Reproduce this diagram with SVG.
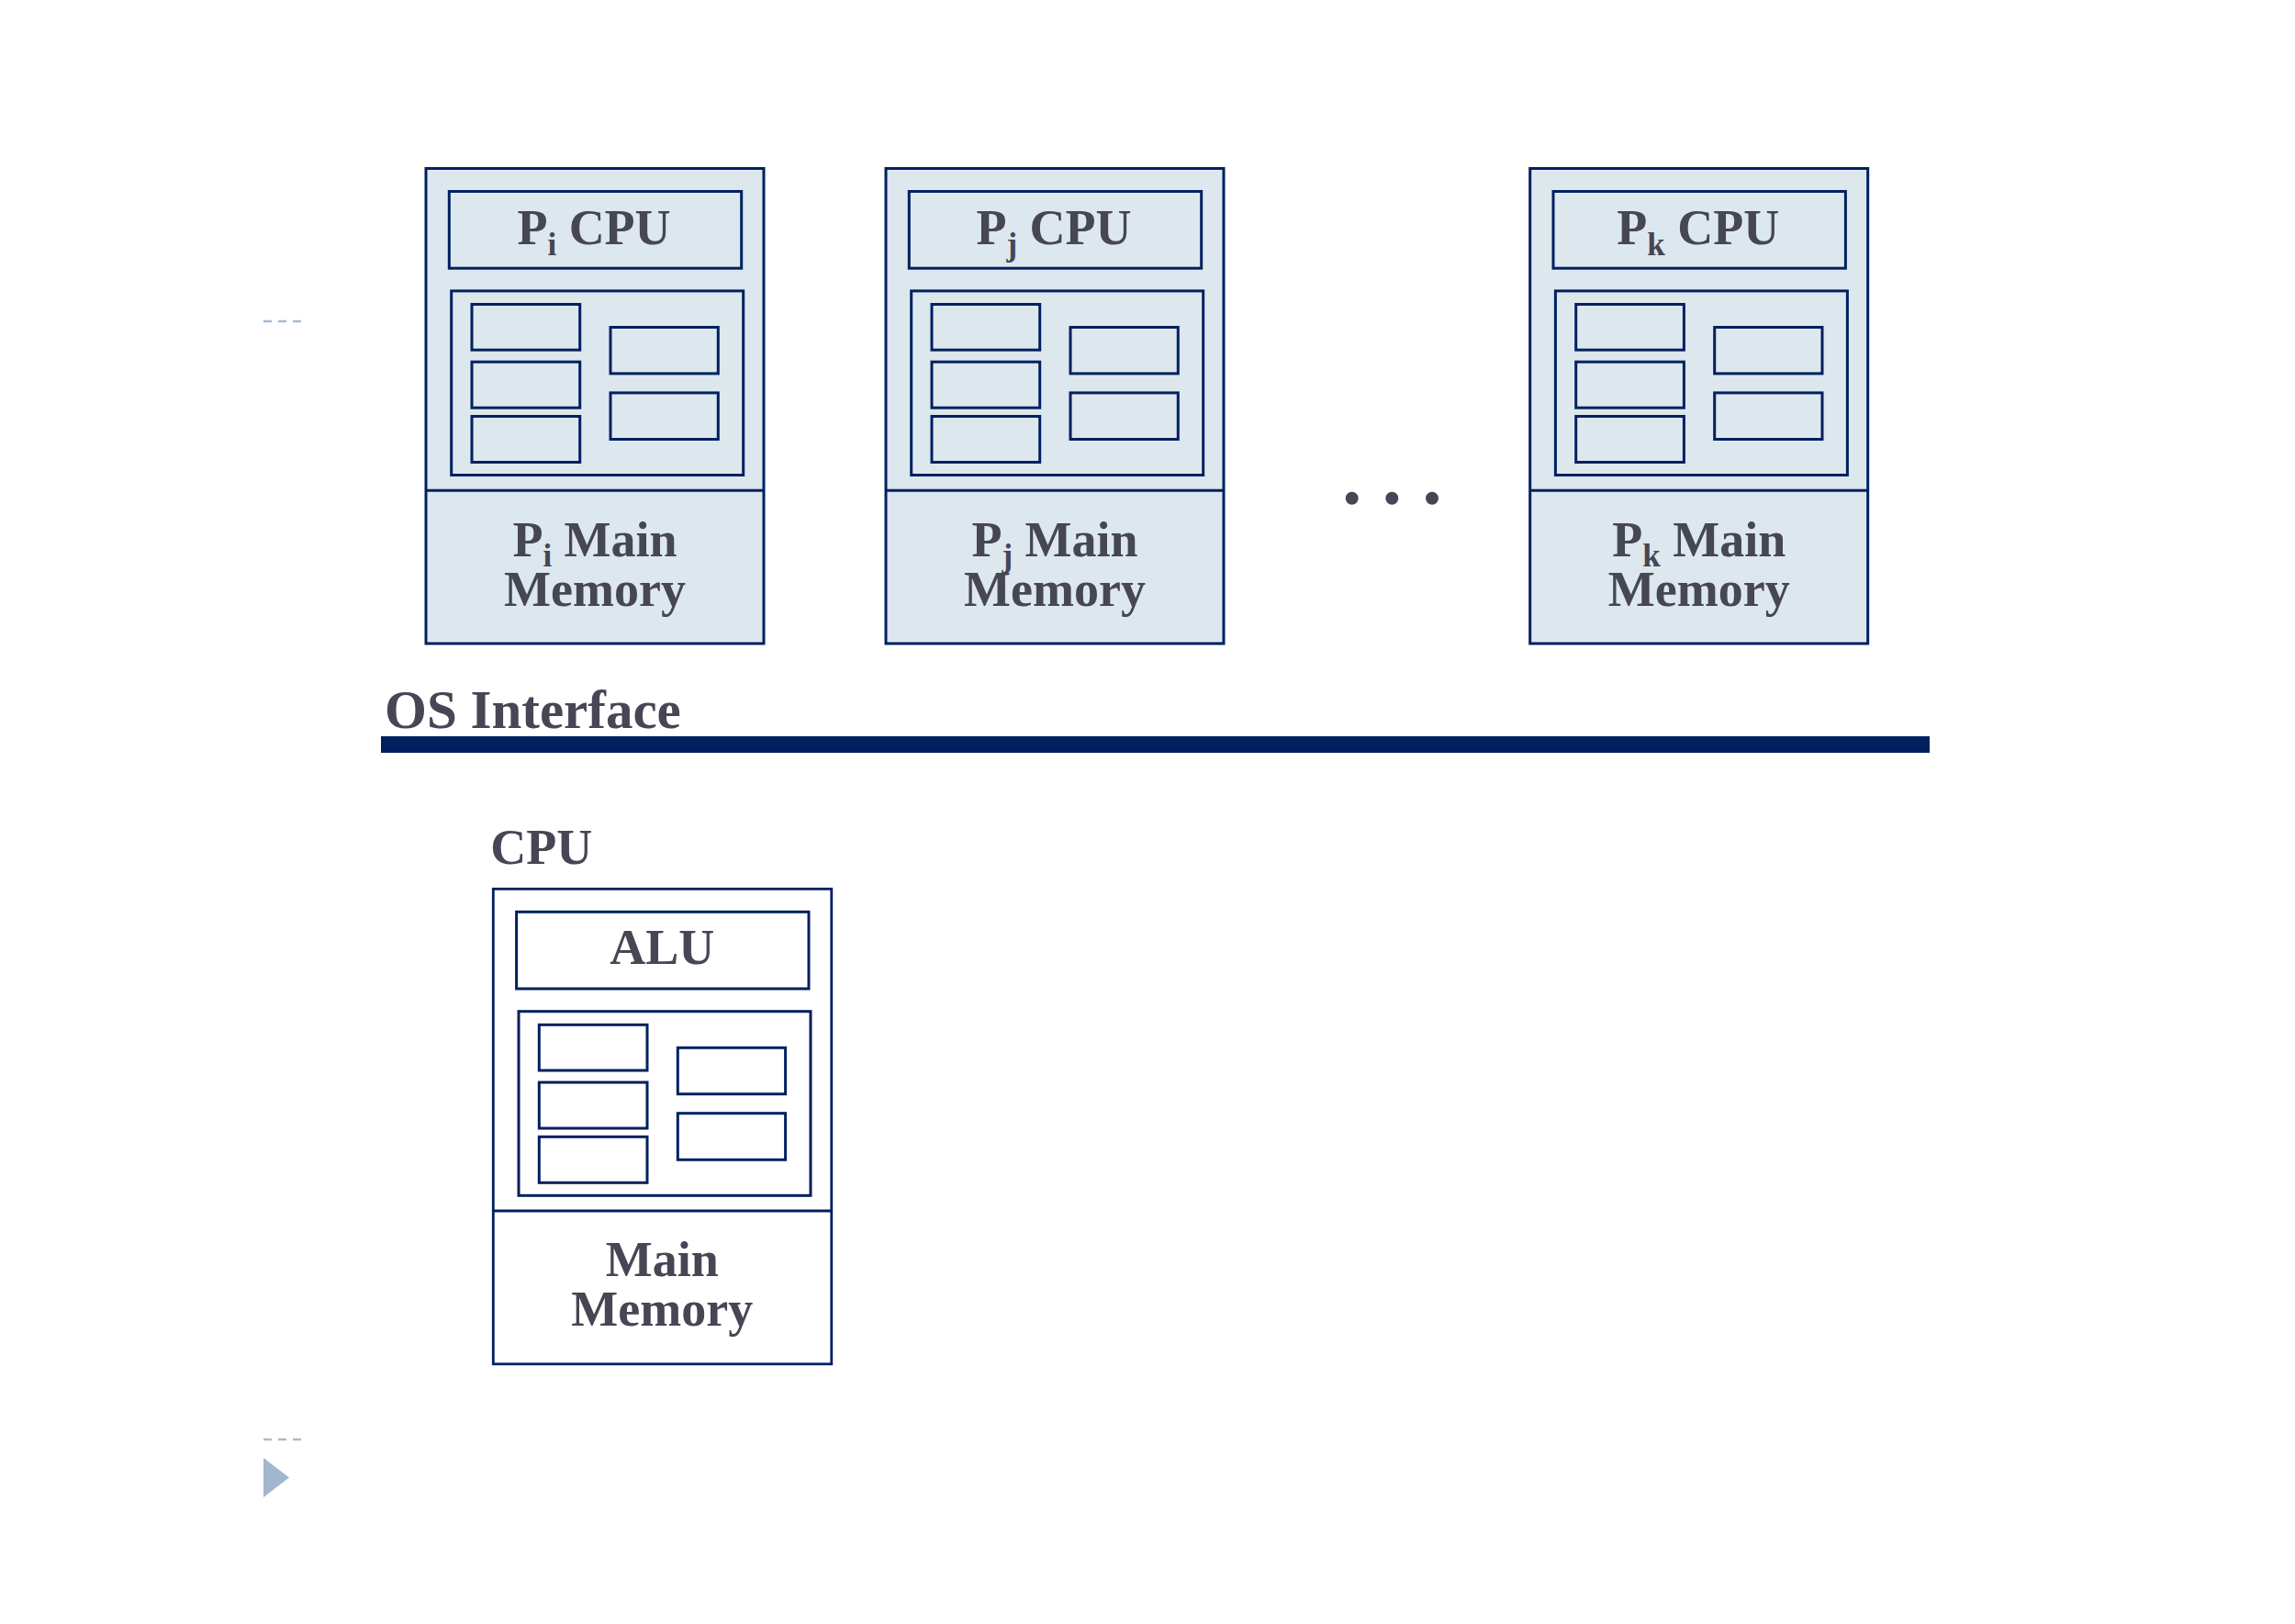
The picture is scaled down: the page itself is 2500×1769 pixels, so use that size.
<svg xmlns="http://www.w3.org/2000/svg" xmlns:xlink="http://www.w3.org/1999/xlink" width="2500" height="1769" viewBox="0 0 2500 1769">
  <style>
    .box { fill: #DDE7EE; stroke: #002060; stroke-width: 3; }
    .wbox { fill: #FFFFFF; stroke: #002060; stroke-width: 2.8; }
    .in { fill: none; stroke: #002060; stroke-width: 3; }
    .lbl { font-family: "Liberation Serif", "Times New Roman", serif; font-weight: bold; font-size: 54px; fill: #464655; text-anchor: middle; }
    .sub { font-size: 35px; }
    .title { font-family: "Liberation Serif", "Times New Roman", serif; font-weight: bold; font-size: 59px; fill: #464655; }
    .deco { stroke: #A6BBD1; stroke-width: 2.5; stroke-dasharray: 9 7; fill: none; }
  </style>
  <defs>
    <g id="regs">
      <rect class="in" x="25.3" y="25" width="318.4" height="83.7"/>
      <rect class="in" x="27.7" y="133.4" width="318" height="200.6"/>
      <rect class="in" x="50" y="148" width="117.7" height="49.7"/>
      <rect class="in" x="50" y="210.7" width="117.7" height="50"/>
      <rect class="in" x="50" y="270" width="117.7" height="50"/>
      <rect class="in" x="201" y="173" width="117.3" height="50.4"/>
      <rect class="in" x="201" y="244.4" width="117.3" height="50.6"/>
      <line class="in" x1="0" y1="350.7" x2="368" y2="350.7"/>
    </g>
  </defs>

  <g id="decorations">
    <line class="deco" x1="287" y1="350" x2="329" y2="350"/>
    <line class="deco" x1="287" y1="1568" x2="329" y2="1568"/>
    <polygon points="287,1588 315,1609.5 287,1631" fill="#A0B7CF"/>
  </g>

  <g id="node-pi" transform="translate(464,183.5)">
    <rect class="box" x="0" y="0" width="368" height="517.5"/>
    <use xlink:href="#regs"/>
    <text class="lbl" x="183" y="82.2">P<tspan class="sub" dy="12">i</tspan><tspan dy="-12"> CPU</tspan></text>
    <text class="lbl" x="184" y="422.5">P<tspan class="sub" dy="11">i</tspan><tspan dy="-11"> Main</tspan></text>
    <text class="lbl" x="184" y="476.5">Memory</text>
  </g>

  <g id="node-pj" transform="translate(965,183.5)">
    <rect class="box" x="0" y="0" width="368" height="517.5"/>
    <use xlink:href="#regs"/>
    <text class="lbl" x="183" y="82.2">P<tspan class="sub" dy="12">j</tspan><tspan dy="-12"> CPU</tspan></text>
    <text class="lbl" x="184" y="422.5">P<tspan class="sub" dy="11">j</tspan><tspan dy="-11"> Main</tspan></text>
    <text class="lbl" x="184" y="476.5">Memory</text>
  </g>

  <g id="ellipsis" fill="#464655">
    <circle cx="1472.7" cy="542.7" r="7"/>
    <circle cx="1516.3" cy="542.7" r="7"/>
    <circle cx="1560" cy="542.7" r="7"/>
  </g>

  <g id="node-pk" transform="translate(1666.7,183.5)">
    <rect class="box" x="0" y="0" width="368" height="517.5"/>
    <use xlink:href="#regs"/>
    <text class="lbl" x="183" y="82.2">P<tspan class="sub" dy="12">k</tspan><tspan dy="-12"> CPU</tspan></text>
    <text class="lbl" x="184" y="422.5">P<tspan class="sub" dy="11">k</tspan><tspan dy="-11"> Main</tspan></text>
    <text class="lbl" x="184" y="476.5">Memory</text>
  </g>

  <g id="os-interface">
    <text class="title" x="419" y="793.3">OS Interface</text>
    <rect x="415" y="802" width="1687" height="18" fill="#002060"/>
  </g>

  <g id="node-cpu" transform="translate(537.3,968.3)">
    <text class="lbl" x="-3" y="-27.3" style="text-anchor:start">CPU</text>
    <rect class="wbox" x="0" y="0" width="368.5" height="517.5"/>
    <use xlink:href="#regs"/>
    <text class="lbl" x="184" y="81.7">ALU</text>
    <text class="lbl" x="184" y="422">Main</text>
    <text class="lbl" x="184" y="475.5">Memory</text>
  </g>

  <g id="connectors"></g>
</svg>
